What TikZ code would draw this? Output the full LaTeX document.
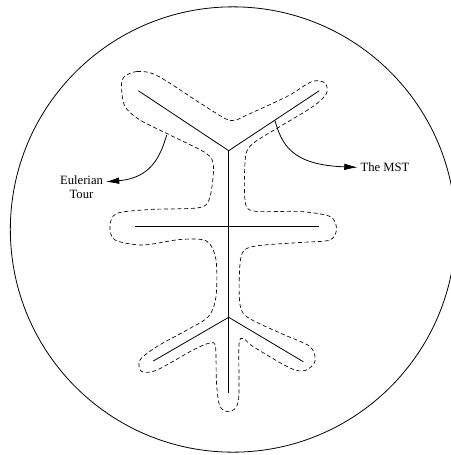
\documentclass[tikz,border=0pt]{standalone}
\usepackage{fontspec}
\setmainfont{Liberation Serif}
\usetikzlibrary{arrows.meta}
\tikzset{
  tour/.style={dashed, dash pattern=on 3pt off 2pt, line width=0.5pt},
  edge/.style={line width=0.6pt},
  lbl/.style={font=\fontsize{9.5}{10.7}\selectfont, inner sep=2pt},
  callout/.style={line width=0.6pt, -{Latex[length=10pt,width=5pt]}}
}
\begin{document}
\begin{tikzpicture}[x=0.75pt,y=-0.75pt]
\useasboundingbox (0,0) rectangle (451,455);
\draw[line width=0.6pt] (233,229.5) circle[radius=167pt];
% the tree
\coordinate (ul) at (138.3,90.7);
\coordinate (ur) at (319.3,90.7);
\coordinate (top) at (228.7,150.7);
\coordinate (mid) at (228.7,226.7);
\coordinate (low) at (228.7,317.3);
\coordinate (bot) at (228.7,392.7);
\coordinate (ml) at (135,226.7);
\coordinate (mr) at (319.3,226.7);
\coordinate (ll) at (153.3,361);
\coordinate (lr) at (303.3,361.7);
\draw[edge] (ul) -- (top) -- (ur);
\draw[edge] (top) -- (bot);
\draw[edge] (ml) -- (mr);
\draw[edge] (ll) -- (low) -- (lr);
% the tour around it
\draw[tour] plot[smooth cycle, tension=0.5] coordinates {
  (124,77) (137,71.5) (157,75.5) (200,103) (226,119) (236,120) (247,115)
  (287,96.5) (312,81.5) (325,83) (326.5,93.5) (313,106.5) (280,126.5)
  (253,143.5) (245.5,157) (245,200) (253.5,211) (300,211.5) (330,216.5)
  (336.5,228.5) (330,240) (300,242.5) (253,246.5) (241,257) (239.5,300)
  (246.5,316.5) (280,333) (310,346.5) (315,361.5) (305,370.5) (290,368)
  (253,346.5) (243.5,338.5) (239,345) (238.5,400) (230,411.5) (220,406.5)
  (216.5,383) (215.5,347) (210,343) (193,350) (157,370) (141.5,371.5)
  (140,360) (157,346.5) (187,330) (208.5,316.5) (216,296.5) (216,260)
  (206.5,241) (180,239.5) (143,245) (115,240) (110,226.5) (116.5,213.5)
  (150,209.5) (200,207.5) (210,196.5) (213.5,166.5) (206.5,153.5)
  (173,136.5) (140,120) (125,106.5) (121.5,87)};
\coordinate (tourpt) at (166.7,135);
\coordinate (treept) at (275,120.7);
% labels
\node[lbl, align=center] (euler) at (81.5,187) {Eulerian\\Tour};
\node[lbl] (mst) at (385,167.3) {The MST};
\draw[callout] (tourpt) .. controls (160,158) and (150,178) .. (euler.12);
\draw[callout] (treept) .. controls (282,145) and (292,165) .. (mst.west);
\end{tikzpicture}
\end{document}
